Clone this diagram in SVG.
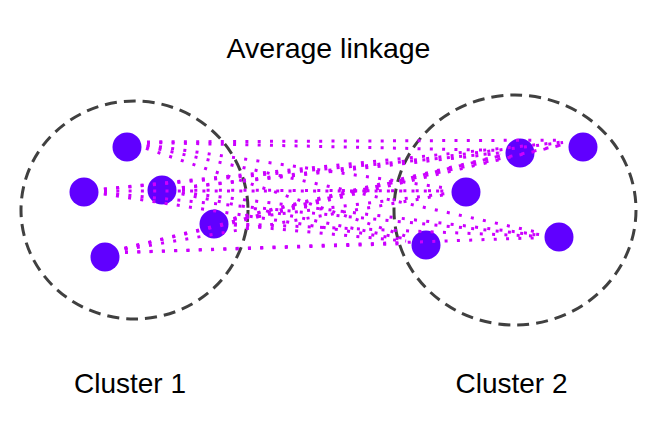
<svg xmlns="http://www.w3.org/2000/svg" width="655" height="424" viewBox="0 0 655 424">
<style>
.cl{fill:none;stroke:#404040;stroke-width:3;stroke-dasharray:12 7}
.pt{fill:#6000ff}
.ln{stroke:#cc00ff;stroke-width:3;stroke-dasharray:3 9.3;fill:none}
text{font-family:"Liberation Sans",Arial,sans-serif;font-size:28px;fill:#000;text-anchor:middle}
.tt{font-size:28.5px}
</style>
<rect width="655" height="424" fill="#fff"/>
<text class="tt" x="328.5" y="58">Average linkage</text>
<g id="cluster1"><ellipse class="cl" cx="134.5" cy="210" rx="113.5" ry="109"/><text x="130" y="393">Cluster 1</text></g>
<g id="cluster2"><ellipse class="cl" cx="515" cy="210" rx="121" ry="115"/><text x="511.5" y="393">Cluster 2</text></g>
<g id="pA"><circle class="pt" cx="127" cy="147" r="14.5"/></g>
<g id="pB"><circle class="pt" cx="84" cy="192" r="14.5"/></g>
<g id="pC"><circle class="pt" cx="162" cy="190" r="14.5"/></g>
<g id="pD"><circle class="pt" cx="214" cy="224" r="14.5"/></g>
<g id="pE"><circle class="pt" cx="105" cy="257" r="14.5"/></g>
<g id="pF"><circle class="pt" cx="520" cy="153" r="14.5"/></g>
<g id="pG"><circle class="pt" cx="583" cy="147" r="14.5"/></g>
<g id="pH"><circle class="pt" cx="466" cy="192" r="14.5"/></g>
<g id="pI"><circle class="pt" cx="426" cy="245" r="14.5"/></g>
<g id="pJ"><circle class="pt" cx="559" cy="237" r="14.5"/></g>
<g id="connectors" class="ln">
<line x1="147.0" y1="142.5" x2="500.0" y2="150.5"/>
<line x1="147" y1="141.9" x2="563" y2="140.1"/>
<line x1="146.8" y1="144.9" x2="446.2" y2="188.1"/>
<line x1="145.9" y1="148.4" x2="407.1" y2="236.6"/>
<line x1="146.5" y1="146.3" x2="539.5" y2="232.7"/>
<line x1="103.9" y1="189.2" x2="500.1" y2="152.8"/>
<line x1="103.9" y1="189.0" x2="563.1" y2="142.0"/>
<line x1="104" y1="191" x2="446" y2="191"/>
<line x1="103.8" y1="194.0" x2="406.2" y2="240.0"/>
<line x1="103.9" y1="192.9" x2="539.1" y2="235.1"/>
<line x1="181.9" y1="187.8" x2="500.1" y2="153.2"/>
<line x1="181.9" y1="187.6" x2="563.1" y2="142.4"/>
<line x1="182" y1="190.1" x2="446" y2="190.9"/>
<line x1="181.6" y1="193.9" x2="406.4" y2="239.1"/>
<line x1="181.9" y1="192.4" x2="539.1" y2="234.6"/>
<line x1="233.5" y1="218.4" x2="500.5" y2="155.6"/>
<line x1="233.5" y1="218.6" x2="563.5" y2="144.4"/>
<line x1="233.8" y1="219.5" x2="446.2" y2="193.5"/>
<line x1="233.9" y1="224.9" x2="406.1" y2="241.1"/>
<line x1="234.0" y1="223.8" x2="539.0" y2="236.2"/>
<line x1="124.4" y1="248.2" x2="500.6" y2="155.8"/>
<line x1="124.5" y1="248.4" x2="563.5" y2="144.6"/>
<line x1="124.7" y1="249.6" x2="446.3" y2="194.4"/>
<line x1="125.0" y1="252.4" x2="406.0" y2="243.6"/>
<line x1="125.0" y1="252.3" x2="539.0" y2="237.7"/>
</g>
</svg>
